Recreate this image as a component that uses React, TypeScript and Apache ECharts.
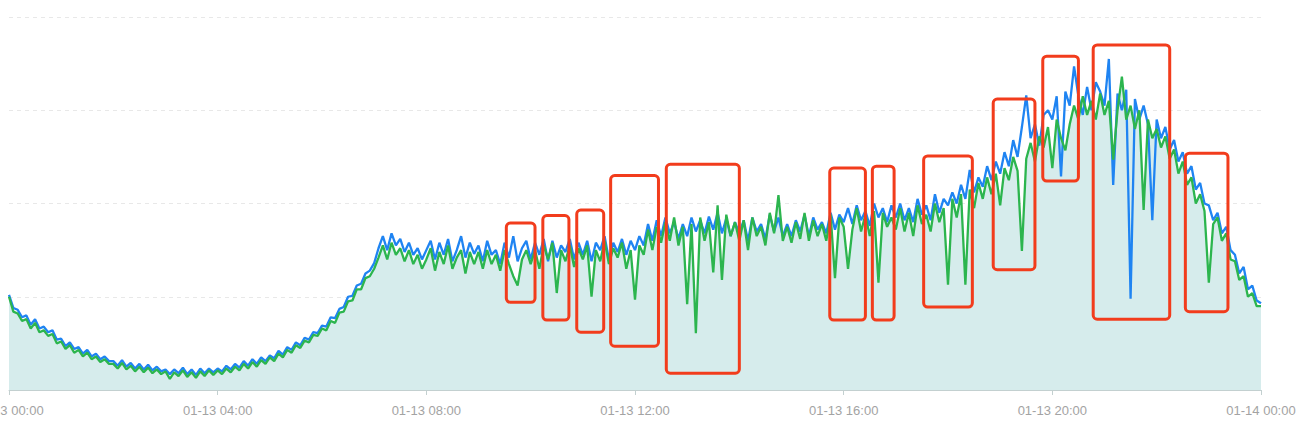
import React, { useEffect, useRef } from "react";
import * as echarts from "echarts";

// time step of samples, minutes from 01-13 00:00
const STEP_MIN = 5;

const xTickLabels = [
  "01-13 00:00",
  "01-13 04:00",
  "01-13 08:00",
  "01-13 12:00",
  "01-13 16:00",
  "01-13 20:00",
  "01-14 00:00",
];

const blueValues = [
  102, 88, 86, 78, 80, 70, 76, 66, 68, 62, 64, 54,
  55, 47, 51, 44, 46, 39, 43, 36, 39, 33, 36, 31,
  31, 26, 32, 25, 29, 23, 28, 22, 27, 21, 25, 20,
  22, 17, 22, 18, 24, 17, 22, 16, 23, 18, 23, 19,
  23, 20, 26, 22, 28, 24, 31, 26, 33, 28, 35, 31,
  37, 34, 42, 38, 46, 43, 51, 48, 56, 54, 62, 61,
  69, 68, 78, 77, 87, 89, 100, 101, 112, 114, 125, 128,
  136, 152, 165, 150, 168, 155, 162, 148, 158, 145, 152, 140,
  150, 160, 140, 158, 145, 162, 138, 150, 165, 142, 158, 146,
  155, 138, 160, 145, 150, 135, 158, 142, 165, 138, 152, 160,
  140, 158, 145, 162, 138, 160, 142, 155, 148, 162, 140, 158,
  145, 160, 138, 158, 150, 165, 140, 158, 148, 162, 145, 160,
  150, 165, 155, 178, 160, 182, 165, 185, 168, 180, 162, 178,
  165, 185, 170, 182, 168, 186, 172, 190, 168, 184, 165, 180,
  168, 182, 160, 185, 170, 178, 162, 188, 170, 185, 165, 178,
  165, 182, 170, 188, 165, 185, 172, 180, 168, 190, 172, 188,
  180, 195, 178, 198, 182, 192, 176, 200, 185, 195, 180, 198,
  185, 200, 182, 195, 180, 205, 188, 198, 182, 210, 190, 205,
  198, 212, 200, 220, 205, 236, 212, 228, 218, 240, 225, 245,
  232, 255, 240, 268, 250, 282, 316, 270, 285, 262, 295, 300,
  290, 315, 229, 320, 305, 347, 315, 295, 325, 300, 330, 320,
  305, 355, 220, 318, 300, 322, 98, 312, 290, 305, 285, 182,
  290, 270, 282, 258, 268, 245, 255, 232, 240, 215, 222, 200,
  198, 182, 190, 168, 175, 150, 145, 125, 132, 108, 112, 96,
  93,
];

const greenValues = [
  100, 84, 82, 74, 76, 66, 72, 62, 64, 58, 60, 50,
  52, 44, 48, 40, 43, 36, 40, 33, 36, 30, 33, 28,
  28, 23, 29, 22, 26, 20, 25, 19, 24, 18, 22, 17,
  20, 12, 19, 15, 21, 14, 19, 13, 20, 15, 21, 16,
  21, 17, 23, 19, 25, 21, 28, 23, 30, 25, 32, 28,
  35, 31, 39, 35, 43, 40, 48, 45, 53, 51, 59, 58,
  66, 64, 74, 72, 83, 84, 95, 96, 108, 108, 120, 122,
  130, 142, 155, 140, 158, 145, 152, 138, 150, 135, 145, 130,
  140, 152, 128, 148, 135, 155, 130, 142, 150, 125, 148, 135,
  148, 130, 150, 135, 145, 128, 150, 135, 122, 112, 140, 150,
  135, 150, 130, 155, 140, 158, 104, 150, 138, 155, 132, 152,
  140, 155, 100, 150, 138, 160, 135, 152, 142, 158, 130, 150,
  97, 155, 145, 172, 150, 175, 158, 180, 160, 185, 155, 175,
  92, 178, 61, 185, 160, 180, 126, 198, 118, 188, 165, 180,
  160, 182, 150, 185, 165, 175, 155, 190, 168, 209, 160, 175,
  158, 180, 162, 190, 160, 182, 165, 178, 160, 188, 120, 185,
  175, 130, 172, 195, 170, 188, 165, 192, 115, 190, 175, 185,
  172, 195, 170, 190, 165, 198, 178, 188, 170, 200, 180, 195,
  113, 205, 185, 210, 113, 215, 195, 222, 205, 228, 210, 232,
  198, 238, 225, 250, 235, 149, 248, 265, 245, 272, 260, 282,
  238, 290, 270, 257, 285, 305, 290, 315, 295, 310, 290, 318,
  295, 310, 247, 300, 336, 290, 305, 280, 300, 193, 290, 270,
  280, 260, 272, 248, 258, 232, 245, 220, 228, 200, 210, 192,
  115, 178, 185, 160, 168, 140, 138, 118, 122, 100, 104, 90,
  90,
];

// anomaly boxes: [startMinute, endMinute, lowValue, highValue]
const anomalyBoxes = [
  [572, 605, 94, 179],
  [614, 644, 75, 187],
  [653, 684, 62, 193],
  [692, 747, 47, 230],
  [756, 840, 18, 242],
  [944, 985, 75, 238],
  [993, 1018, 75, 240],
  [1052, 1108, 89, 251],
  [1132, 1180, 129, 312],
  [1189, 1230, 224, 358],
  [1247, 1335, 76, 370],
  [1353, 1402, 84, 254],
];

export default function App() {
  const ref = useRef<HTMLDivElement>(null);

  useEffect(() => {
    if (!ref.current) return;
    const chart = echarts.init(ref.current, null, { renderer: "svg" });
    const toPairs = (arr: number[]) => arr.map((v, i) => [i * STEP_MIN, v]);
    const blue = toPairs(blueValues);
    const green = toPairs(greenValues);

    chart.setOption({
      animation: false,
      grid: { left: 9, right: 38, top: 17, bottom: 34, outerBoundsMode: "none", containLabel: false },
      xAxis: {
        type: "value",
        min: 0,
        max: 1440,
        interval: 240,
        axisLine: { show: true, lineStyle: { color: "#c3d0d0", width: 1 } },
        axisTick: { show: true, length: 5, lineStyle: { color: "#c3d0d0" } },
        splitLine: { show: false },
        axisLabel: {
          color: "#a3a3a3",
          fontSize: 13,
          fontFamily: "Liberation Sans, Arial, sans-serif",
          margin: 14,
          showMinLabel: true,
          showMaxLabel: true,
          hideOverlap: false,
          formatter: (v: number) => xTickLabels[Math.round(v / 240)] ?? "",
        },
      },
      yAxis: {
        type: "value",
        min: 0,
        max: 400,
        interval: 100,
        axisLine: { show: false },
        axisTick: { show: false },
        axisLabel: { show: false },
        splitLine: { show: true, lineStyle: { color: "#e8e8e8", type: [4, 4], width: 1 } },
      },
      series: [
        {
          name: "area",
          type: "line",
          data: green,
          showSymbol: false,
          symbol: "none",
          lineStyle: { width: 0, opacity: 0 },
          areaStyle: { color: "#d6ecec", opacity: 1 },
          z: 1,
          silent: true,
        },
        {
          name: "blue",
          type: "line",
          data: blue,
          showSymbol: false,
          symbol: "none",
          lineStyle: { color: "#1f84f2", width: 2.3 },
          z: 2,
        },
        {
          name: "green",
          type: "line",
          data: green,
          showSymbol: false,
          symbol: "none",
          lineStyle: { color: "#2cb54e", width: 2.3 },
          z: 3,
        },
        {
          name: "anomalies",
          type: "custom",
          data: anomalyBoxes,
          encode: { x: [0, 1], y: [2, 3] },
          clip: false,
          z: 5,
          renderItem: (params: any, api: any) => {
            const p1 = api.coord([api.value(0), api.value(3)]);
            const p2 = api.coord([api.value(1), api.value(2)]);
            return {
              type: "rect",
              shape: { x: p1[0], y: p1[1], width: p2[0] - p1[0], height: p2[1] - p1[1], r: 4 },
              style: { fill: "none", stroke: "#f23c1c", lineWidth: 3 },
            };
          },
        },
      ],
    });
    return () => chart.dispose();
  }, []);

  return (
    <div
      ref={ref}
      style={{ position: "absolute", left: 0, top: 0, width: 1299, height: 424 }}
    />
  );
}
